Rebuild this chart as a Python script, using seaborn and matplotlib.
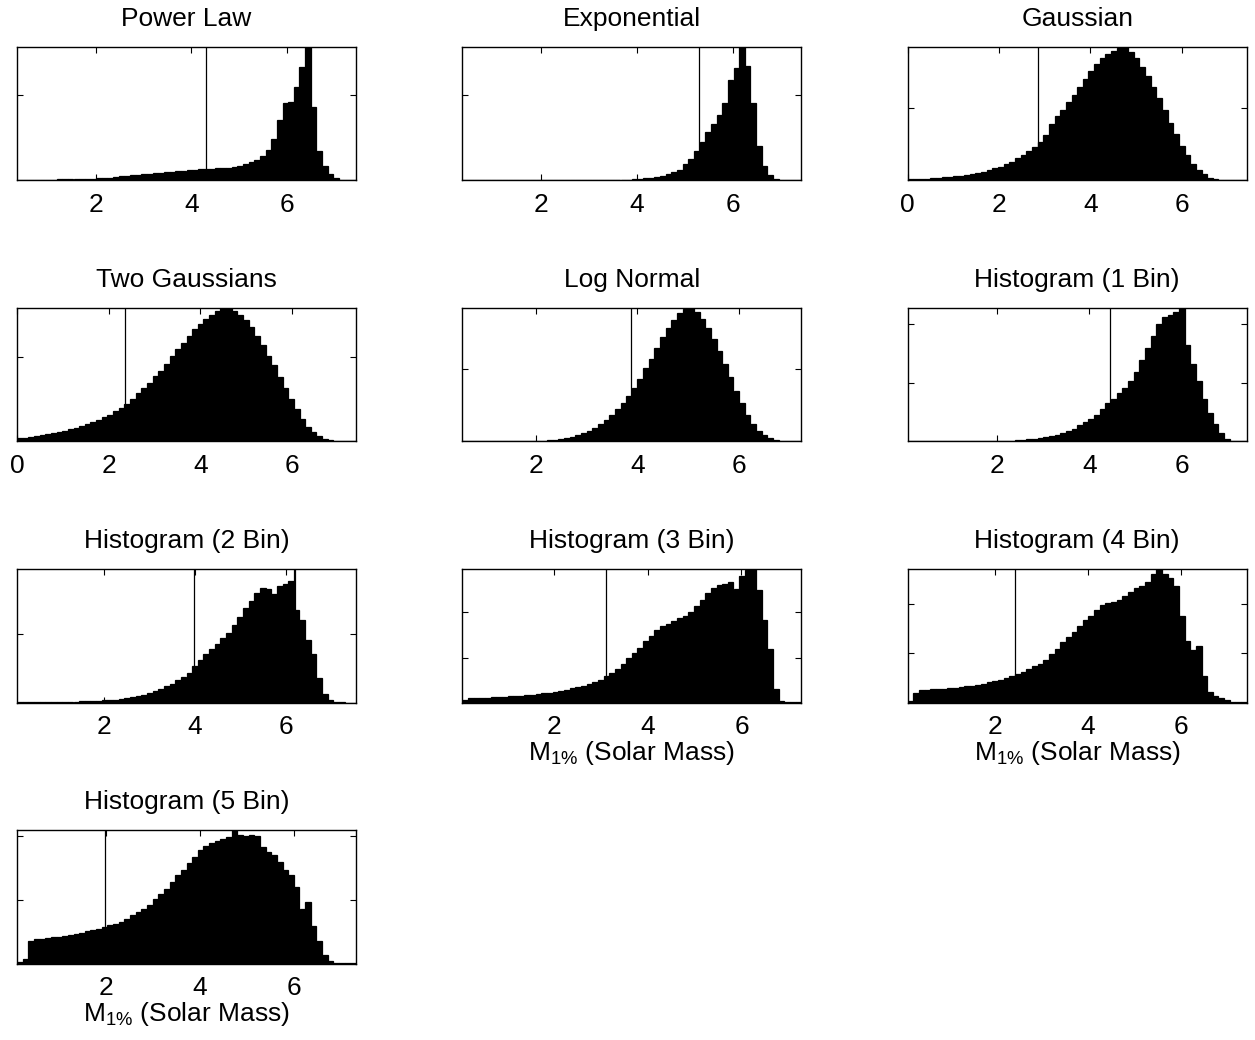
import numpy as np
import pandas as pd
import matplotlib
matplotlib.use("Agg")
import matplotlib.pyplot as plt
import seaborn as sns

sns.set_style("white")
plt.rcParams["font.family"] = ["Liberation Sans", "DejaVu Sans"]
plt.rcParams["mathtext.fontset"] = "custom"
plt.rcParams["mathtext.rm"] = "Liberation Sans"
plt.rcParams["mathtext.it"] = "Liberation Sans"
plt.rcParams["text.color"] = "black"
plt.rcParams["axes.labelcolor"] = "black"
plt.rcParams["xtick.color"] = "black"
plt.rcParams["ytick.color"] = "black"

titles = ["Power Law", "Exponential", "Gaussian", "Two Gaussians", "Log Normal",
          "Histogram (1 Bin)", "Histogram (2 Bin)", "Histogram (3 Bin)",
          "Histogram (4 Bin)", "Histogram (5 Bin)"]

# data range (min, max) of M_1% samples in each panel
x_ranges = [(0.345, 7.45), (0.36, 7.43), (0.0, 7.42), (0.0, 7.39), (0.55, 7.23),
            (0.06, 7.41), (0.10, 7.53), (0.03, 7.28), (0.12, 7.41), (0.09, 7.33)]

# 1% quantile marker
m1_lines = [4.30, 5.29, 2.86, 2.36, 3.87, 4.44, 3.97, 3.10, 2.42, 1.96]

# relative histogram heights (60 equal bins across the data range)
power_law = [0.002, 0.003, 0.003, 0.004, 0.005, 0.006, 0.007, 0.008, 0.009, 0.010,
             0.011, 0.012, 0.013, 0.014, 0.016, 0.019, 0.022, 0.026, 0.030, 0.034,
             0.038, 0.042, 0.046, 0.050, 0.054, 0.058, 0.062, 0.066, 0.070, 0.074,
             0.078, 0.081, 0.084, 0.087, 0.089, 0.091, 0.093, 0.096, 0.102, 0.110,
             0.120, 0.135, 0.155, 0.180, 0.230, 0.310, 0.450, 0.580, 0.590, 0.700,
             0.850, 1.000, 0.550, 0.220, 0.110, 0.045, 0.015, 0.004, 0.001, 0.000]
exponential = [0.0, 0.0, 0.0, 0.0, 0.0, 0.0, 0.0, 0.0, 0.0, 0.0,
               0.0, 0.0, 0.0, 0.0, 0.0, 0.001, 0.001, 0.001, 0.001, 0.001,
               0.001, 0.001, 0.001, 0.002, 0.003, 0.003, 0.004, 0.005, 0.006, 0.007,
               0.009, 0.012, 0.016, 0.021, 0.028, 0.036, 0.046, 0.062, 0.080, 0.120,
               0.160, 0.220, 0.290, 0.360, 0.420, 0.490, 0.580, 0.750, 0.840, 1.000,
               0.860, 0.580, 0.260, 0.110, 0.040, 0.013, 0.004, 0.001, 0.0, 0.0]
gaussian = [0.008, 0.010, 0.012, 0.014, 0.017, 0.020, 0.023, 0.027, 0.031, 0.036,
            0.042, 0.049, 0.057, 0.066, 0.077, 0.090, 0.104, 0.120, 0.140, 0.165,
            0.190, 0.220, 0.250, 0.290, 0.340, 0.420, 0.480, 0.530, 0.590, 0.640,
            0.700, 0.760, 0.820, 0.870, 0.920, 0.950, 0.970, 0.990, 1.000, 0.960,
            0.920, 0.850, 0.780, 0.700, 0.620, 0.530, 0.430, 0.350, 0.260, 0.190,
            0.120, 0.075, 0.045, 0.022, 0.012, 0.006, 0.003, 0.002, 0.001, 0.001]
two_gaussians = [0.024, 0.028, 0.033, 0.039, 0.046, 0.053, 0.061, 0.070, 0.080, 0.090,
                 0.100, 0.115, 0.130, 0.145, 0.160, 0.180, 0.200, 0.225, 0.250, 0.280,
                 0.320, 0.360, 0.400, 0.440, 0.490, 0.530, 0.580, 0.640, 0.690, 0.740,
                 0.790, 0.840, 0.880, 0.920, 0.950, 0.980, 1.000, 1.000, 0.980, 0.950,
                 0.910, 0.860, 0.790, 0.720, 0.640, 0.570, 0.480, 0.400, 0.320, 0.240,
                 0.170, 0.110, 0.070, 0.040, 0.022, 0.010, 0.005, 0.003, 0.002, 0.002]
log_normal = [0.0, 0.0, 0.0, 0.0, 0.0, 0.0, 0.0, 0.001, 0.001, 0.001,
              0.002, 0.002, 0.003, 0.004, 0.006, 0.009, 0.013, 0.018, 0.025, 0.034,
              0.045, 0.060, 0.078, 0.100, 0.130, 0.160, 0.195, 0.240, 0.290, 0.340,
              0.400, 0.470, 0.550, 0.620, 0.700, 0.780, 0.850, 0.910, 0.960, 0.990,
              1.000, 0.970, 0.920, 0.850, 0.770, 0.680, 0.580, 0.480, 0.380, 0.290,
              0.200, 0.130, 0.080, 0.045, 0.025, 0.012, 0.006, 0.003, 0.001, 0.001]
hist_1bin = [0.0, 0.0, 0.0, 0.0, 0.0, 0.0, 0.0, 0.0, 0.0, 0.0,
             0.001, 0.001, 0.001, 0.002, 0.002, 0.003, 0.004, 0.005, 0.007, 0.009,
             0.012, 0.015, 0.019, 0.024, 0.031, 0.040, 0.050, 0.063, 0.078, 0.097,
             0.120, 0.145, 0.170, 0.200, 0.240, 0.285, 0.320, 0.360, 0.400, 0.450,
             0.520, 0.610, 0.700, 0.790, 0.880, 0.930, 0.950, 0.970, 1.000, 0.720,
             0.580, 0.450, 0.320, 0.210, 0.130, 0.060, 0.020, 0.005, 0.002, 0.001]
hist_2bin = [0.002, 0.002, 0.003, 0.003, 0.003, 0.004, 0.004, 0.005, 0.005, 0.006,
             0.007, 0.008, 0.009, 0.011, 0.013, 0.015, 0.018, 0.022, 0.027, 0.033,
             0.040, 0.048, 0.058, 0.070, 0.085, 0.100, 0.120, 0.140, 0.165, 0.190,
             0.220, 0.270, 0.320, 0.360, 0.400, 0.440, 0.480, 0.520, 0.580, 0.640,
             0.710, 0.760, 0.820, 0.860, 0.850, 0.810, 0.870, 0.890, 0.910, 0.690,
             0.620, 0.470, 0.360, 0.180, 0.065, 0.018, 0.004, 0.001, 0.0, 0.0]
hist_2bin_spike = (6.20, 1.0)
hist_3bin = [0.020, 0.032, 0.034, 0.035, 0.037, 0.038, 0.040, 0.042, 0.045, 0.048,
             0.051, 0.054, 0.058, 0.063, 0.068, 0.074, 0.080, 0.087, 0.095, 0.105,
             0.115, 0.127, 0.140, 0.155, 0.170, 0.195, 0.220, 0.250, 0.290, 0.330,
             0.370, 0.410, 0.460, 0.500, 0.540, 0.570, 0.590, 0.610, 0.630, 0.650,
             0.680, 0.720, 0.770, 0.820, 0.860, 0.880, 0.890, 0.900, 0.850, 0.950,
             0.990, 1.000, 0.840, 0.620, 0.400, 0.100, 0.010, 0.005, 0.003, 0.002]
hist_4bin = [0.010, 0.070, 0.093, 0.096, 0.098, 0.100, 0.103, 0.106, 0.110, 0.115,
             0.120, 0.126, 0.133, 0.140, 0.150, 0.160, 0.170, 0.180, 0.195, 0.210,
             0.230, 0.250, 0.270, 0.290, 0.320, 0.360, 0.400, 0.450, 0.490, 0.530,
             0.570, 0.620, 0.650, 0.690, 0.730, 0.745, 0.755, 0.770, 0.800, 0.830,
             0.855, 0.875, 0.900, 0.960, 1.000, 0.960, 0.930, 0.870, 0.650, 0.460,
             0.390, 0.420, 0.200, 0.080, 0.045, 0.030, 0.015, 0.006, 0.003, 0.002]
hist_5bin = [0.010, 0.030, 0.170, 0.180, 0.185, 0.190, 0.195, 0.200, 0.205, 0.210,
             0.220, 0.230, 0.240, 0.250, 0.260, 0.275, 0.285, 0.295, 0.310, 0.335,
             0.360, 0.385, 0.410, 0.440, 0.480, 0.520, 0.560, 0.610, 0.660, 0.700,
             0.750, 0.800, 0.850, 0.880, 0.900, 0.915, 0.930, 0.950, 1.000, 0.960,
             0.955, 0.960, 0.955, 0.870, 0.835, 0.810, 0.760, 0.700, 0.665, 0.570,
             0.410, 0.460, 0.280, 0.170, 0.060, 0.020, 0.006, 0.003, 0.002, 0.002]

series = [power_law, exponential, gaussian, two_gaussians, log_normal,
          hist_1bin, hist_2bin, hist_3bin, hist_4bin, hist_5bin]

# y tick positions (fractions of the panel peak)
y_ticks = [[0.64], [0.64], [0.545], [0.63], [0.54],
           [0.44, 0.88], [0.51], [0.336, 0.677], [0.37, 0.74], [0.477, 0.957]]

x_ticks = [0, 2, 4, 6]
xlabel_panels = [7, 8, 9]
xlabel_text = r"M$_{\mathregular{1\%}}$ (Solar Mass)"

W, H = 1255, 1040
fig = plt.figure(figsize=(W / 100, H / 100), dpi=100)

col_left = [17, 462.3, 907.7]
row_top = [47, 308, 569, 830]
ax_w, ax_h = 339, 133.5
fs = 19

for i, (title, vals) in enumerate(zip(titles, series)):
    r, c = divmod(i, 3)
    left = col_left[c] / W
    bottom = 1 - (row_top[r] + ax_h) / H
    ax = fig.add_axes([left, bottom, ax_w / W, ax_h / H])
    lo, hi = x_ranges[i]
    n = len(vals)
    edges = np.linspace(lo, hi, n + 1)
    centers = 0.5 * (edges[:-1] + edges[1:])
    df = pd.DataFrame({"m": centers, "w": vals})
    sns.histplot(data=df, x="m", weights="w", bins=n, binrange=(lo, hi),
                 color="black", edgecolor="black", linewidth=0.9, alpha=1.0, ax=ax)
    ymax = max(vals)
    if i == 6:
        sx, sh = hist_2bin_spike
        ax.vlines(sx, 0, sh, color="black", linewidth=1.6)
        ymax = max(ymax, sh)
    ax.axvline(m1_lines[i], color="black", linewidth=0.9)
    ticks_in = [t for t in x_ticks if lo - 1e-9 <= t <= hi]
    ax.set_xticks(ticks_in)
    ax.set_xticklabels([str(t) for t in ticks_in])
    ax.set_yticks([t * ymax for t in y_ticks[i]])
    ax.set_xlim(lo, hi)
    ax.set_ylim(0, ymax)
    ax.tick_params(direction="in", top=True, right=True, left=True, bottom=True,
                   length=4, width=0.8, labelleft=False, labelsize=fs, pad=9,
                   colors="black")
    for s in ax.spines.values():
        s.set_color("black")
        s.set_linewidth(1.0)
    ax.set_ylabel("")
    ax.set_title(title, fontsize=fs, pad=15, color="black")
    if i in xlabel_panels:
        ax.set_xlabel(xlabel_text, fontsize=fs, labelpad=0, color="black")
    else:
        ax.set_xlabel("")

fig.savefig("out.png", dpi=100)
